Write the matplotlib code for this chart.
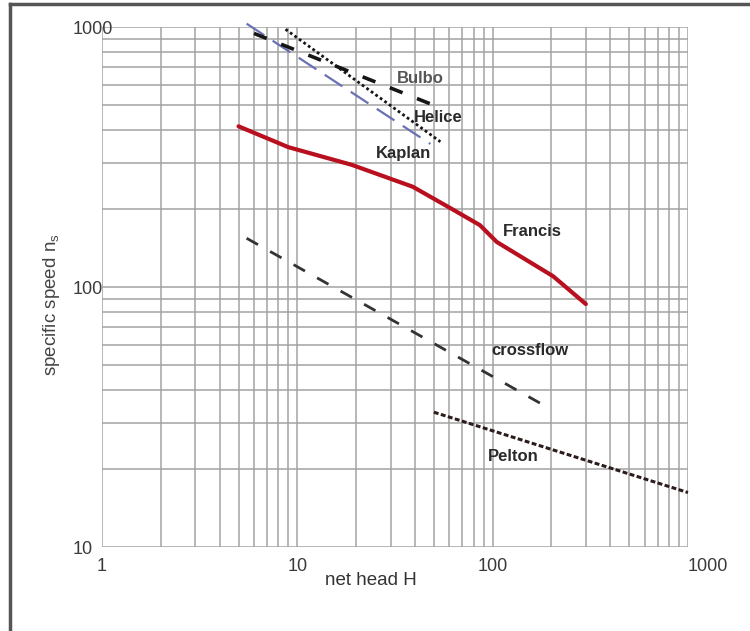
import matplotlib
matplotlib.use("Agg")
import matplotlib.pyplot as plt
from matplotlib.lines import Line2D

plt.rcParams['font.family'] = ['Liberation Sans', 'DejaVu Sans']

# turbine application ranges (net head H [m], specific speed ns)
francis_h = [5, 9, 19, 39, 63, 86, 105, 204, 300]
francis_ns = [415, 345, 295, 243, 198, 173, 149, 110, 86]

kaplan_h = [5.5, 48]
kaplan_ns = [1030, 355]

bulbo_h = [6, 50]
bulbo_ns = [945, 500]

helice_h = [8.7, 54]
helice_ns = [980, 362]

crossflow_h = [5.5, 197]
crossflow_ns = [154, 34]

pelton_h = [50, 1000]
pelton_ns = [33, 16.2]

x_ticks = [1, 10, 100, 1000]
y_ticks = [10, 100, 1000]


def main():
    fig = plt.figure(figsize=(7.5, 6.31), dpi=100)
    ax = fig.add_axes([0.136, 0.1331, 0.7813, 0.8241])

    ax.set_xscale('log')
    ax.set_yscale('log')
    ax.set_xlim(1, 1000)
    ax.set_ylim(10, 1000)

    ax.grid(True, which='both', color='#a3a3a3', lw=1.1)
    ax.set_axisbelow(True)
    for s in ax.spines.values():
        s.set_visible(False)

    ax.set_xticks(x_ticks)
    ax.set_xticklabels([str(t) for t in x_ticks])
    ax.set_yticks(y_ticks)
    ax.set_yticklabels([str(t) for t in y_ticks])
    ax.tick_params(which='both', length=0, labelsize=13, labelcolor='#3a3a3a')
    ax.tick_params(axis='x', pad=8)
    ax.tick_params(axis='y', pad=21.5)
    for lab in ax.get_yticklabels():
        lab.set_horizontalalignment('left')
    # the 1000 label sits to the right of its grid line in the original
    ax.get_xticklabels()[-1].set_horizontalalignment('left')

    # curves
    ax.plot(kaplan_h, kaplan_ns, color='#6a70b4', lw=1.6,
            dashes=(9.5, 4.5), clip_on=False)
    ax.plot(bulbo_h, bulbo_ns, color='#151515', lw=2.6,
            dashes=(3.8, 4.3), clip_on=False)
    ax.plot(helice_h, helice_ns, color='#151515', lw=2.0,
            dashes=(1, 1), clip_on=False)
    ax.plot(francis_h, francis_ns, color='#b8101e', lw=3.0,
            solid_capstyle='round')
    ax.plot(crossflow_h, crossflow_ns, color='#333333', lw=2.0,
            dashes=(4.7, 5))
    ax.plot(pelton_h, pelton_ns, color='#2c1c1c', lw=2.2,
            dashes=(1.6, 0.8), clip_on=False)

    lab_kw = dict(fontsize=12, fontweight='bold', ha='center', va='center')
    ax.text(42.5, 631, 'Bulbo', color='#555555', **lab_kw)
    ax.text(52.5, 447, 'Helice', color='#2a2a2a', **lab_kw)
    ax.text(34.8, 327, 'Kaplan', color='#2a2a2a', **lab_kw)
    ax.text(159, 163, 'Francis', color='#2a2a2a', **lab_kw)
    ax.text(155, 56.8, 'crossflow', color='#2a2a2a', **lab_kw)
    ax.text(127, 22.2, 'Pelton', color='#2a2a2a', **lab_kw)

    ax.set_xlabel('net head H', fontsize=13.5, color='#333333', va='center')
    ax.xaxis.set_label_coords(0.459, -0.0635)
    ax.set_ylabel(r'specific speed n$_\mathregular{s}$', fontsize=13.5,
                  color='#444444', va='center')
    ax.yaxis.set_label_coords(-0.087, 0.467)

    # scanned page frame (top and left edges)
    fig.add_artist(Line2D([10 / 750, 1.0], [1 - 4 / 631, 1 - 4 / 631],
                          color='#555555', lw=2.5, transform=fig.transFigure))
    fig.add_artist(Line2D([10 / 750, 10 / 750], [0.0, 1 - 4 / 631],
                          color='#555555', lw=2.5, transform=fig.transFigure))

    fig.savefig('out.png', dpi=100)


if __name__ == '__main__':
    main()
